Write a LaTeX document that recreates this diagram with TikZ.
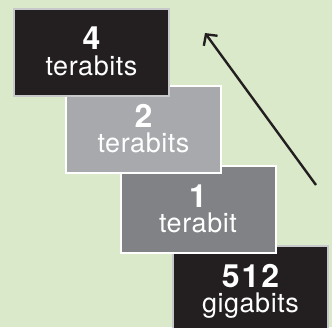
\documentclass[tikz,border=0pt]{standalone}
\usepackage{fontspec}
\setmainfont{TeX Gyre Heros}
\usetikzlibrary{arrows.meta}

\newlength{\du}
\setlength{\du}{1pt}

\definecolor{bggreen}{rgb}{0.855, 0.914, 0.792}
\definecolor{boxblack}{rgb}{0.137, 0.122, 0.125}
\definecolor{boxlight}{rgb}{0.655, 0.663, 0.675}
\definecolor{boxmid}{rgb}{0.502, 0.510, 0.522}
\definecolor{rimgray}{rgb}{0.780, 0.784, 0.792}

\tikzset{
  sizebox/.style={rectangle, inner sep=0pt, minimum width=155\du, minimum height=87\du, line width=2\du},
  numtext/.style={text=white, font=\fontsize{32}{32}\selectfont\bfseries\addfontfeature{LetterSpace=6}, inner sep=0pt, anchor=base},
  unittext/.style={text=white, font=\fontsize{27}{27}\selectfont\addfontfeature{LetterSpace=2}, inner sep=0pt, anchor=base},
}

\begin{document}
\begin{tikzpicture}[x=1\du, y=-1\du]
\useasboundingbox (0,0) rectangle (332,327);
\clip (0,0) rectangle (332,327);
\fill[bggreen] (0,0) rectangle (332,327);
% bottom step first, the upper ones lie over it
\node[sizebox, fill=boxblack, draw=rimgray] (b512) at (250.5,289) {};
\node[numtext] (n512) at ([yshift=2\du]b512.center) {512};
\node[unittext] (u512) at ([yshift=-23\du]b512.center) {gigabits};
\node[sizebox, fill=boxmid, draw=white] (b1) at (198,209.5) {};
\node[numtext] (n1) at ([yshift=2\du]b1.center) {1};
\node[unittext] (u1) at ([yshift=-23\du]b1.center) {terabit};
\node[sizebox, fill=boxlight, draw=white] (b2) at (143.5,129.5) {};
\node[numtext] (n2) at ([yshift=2\du]b2.center) {2};
\node[unittext] (u2) at ([yshift=-23\du]b2.center) {terabits};
\node[sizebox, fill=boxblack, draw=rimgray] (b4) at (91.5,52) {};
\node[numtext] (n4) at ([yshift=3\du]b4.center) {4};
\node[unittext] (u4) at ([yshift=-23\du]b4.center) {terabits};
% growth arrow
\coordinate (tail) at (316,185);
\coordinate (tip) at (205,33);
\draw[line width=2.4pt, boxblack, -{Straight Barb[length=8pt, width=17pt]}] (tail) -- (tip);
\end{tikzpicture}
\end{document}
